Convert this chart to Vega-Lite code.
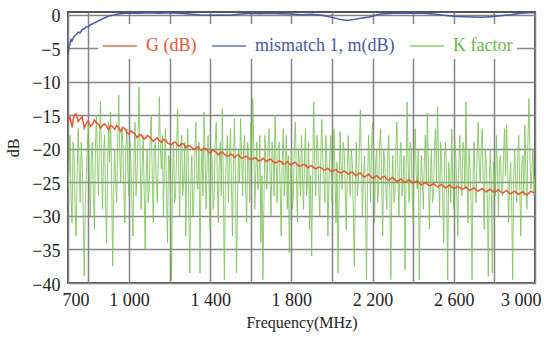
{
  "$schema": "https://vega.github.io/schema/vega-lite/v6.json",
  "width": 467,
  "height": 271,
  "autosize": {"type": "none"},
  "padding": {"left": 68, "top": 12, "right": 14, "bottom": 55},
  "background": "white",
  "config": {
    "view": {"stroke": "#555555", "strokeWidth": 2},
    "font": "Liberation Serif",
    "axis": {
      "labelFont": "Liberation Serif", "titleFont": "Liberation Serif",
      "labelColor": "#222222", "titleColor": "#222222", "titleFontWeight": "normal",
      "domain": false, "ticks": false,
      "gridColor": "#858585", "gridWidth": 1.5, "gridOpacity": 1,
      "labelFontSize": 18, "titleFontSize": 16, "labelOverlap": false
    }
  },
  "datasets": {
    "k": [
      {"f":700,"v":-26},{"f":710,"v":-18},{"f":720,"v":-31},{"f":730,"v":-21},{"f":740,"v":-33},{"f":750,"v":-17},{"f":760,"v":-28},{"f":770,"v":-22},{"f":780,"v":-39},{"f":790,"v":-24},
      {"f":800,"v":-16},{"f":810,"v":-30},{"f":820,"v":-19},{"f":830,"v":-32},{"f":840,"v":-15},{"f":850,"v":-27},{"f":860,"v":-13},{"f":870,"v":-29},{"f":880,"v":-18},{"f":890,"v":-34},
      {"f":900,"v":-16},{"f":910,"v":-14.5},{"f":920,"v":-37.5},{"f":930,"v":-20},{"f":940,"v":-28},{"f":950,"v":-12},{"f":960,"v":-25},{"f":970,"v":-19},{"f":980,"v":-31},{"f":990,"v":-17},
      {"f":1000,"v":-27},{"f":1010,"v":-22},{"f":1020,"v":-33},{"f":1030,"v":-16},{"f":1040,"v":-24},{"f":1050,"v":-10.8},{"f":1060,"v":-29},{"f":1070,"v":-18},{"f":1080,"v":-35},{"f":1090,"v":-20},
      {"f":1100,"v":-26},{"f":1110,"v":-15},{"f":1120,"v":-31},{"f":1130,"v":-19},{"f":1140,"v":-28},{"f":1150,"v":-12.2},{"f":1160,"v":-23},{"f":1170,"v":-30},{"f":1180,"v":-17},{"f":1190,"v":-34},
      {"f":1200,"v":-22},{"f":1210,"v":-39.5},{"f":1220,"v":-19},{"f":1230,"v":-27},{"f":1240,"v":-14},{"f":1250,"v":-30},{"f":1260,"v":-18},{"f":1270,"v":-25},{"f":1280,"v":-33},{"f":1290,"v":-17},
      {"f":1300,"v":-38.5},{"f":1310,"v":-21},{"f":1320,"v":-28},{"f":1330,"v":-16},{"f":1340,"v":-26},{"f":1350,"v":-38.5},{"f":1360,"v":-20},{"f":1370,"v":-14.5},{"f":1380,"v":-29},{"f":1390,"v":-18},
      {"f":1400,"v":-32},{"f":1410,"v":-22},{"f":1420,"v":-27},{"f":1430,"v":-16},{"f":1440,"v":-31},{"f":1450,"v":-19},{"f":1460,"v":-14},{"f":1470,"v":-39.5},{"f":1480,"v":-21},{"f":1490,"v":-28},
      {"f":1500,"v":-17},{"f":1510,"v":-33},{"f":1520,"v":-15.5},{"f":1530,"v":-38.5},{"f":1540,"v":-20},{"f":1550,"v":-15.5},{"f":1560,"v":-27},{"f":1570,"v":-18},{"f":1580,"v":-31},{"f":1590,"v":-22},
      {"f":1600,"v":-16},{"f":1610,"v":-12.5},{"f":1620,"v":-29},{"f":1630,"v":-19},{"f":1640,"v":-25},{"f":1650,"v":-34},{"f":1660,"v":-39.5},{"f":1670,"v":-18},{"f":1680,"v":-26},{"f":1690,"v":-17},
      {"f":1700,"v":-30},{"f":1710,"v":-21},{"f":1720,"v":-15},{"f":1730,"v":-28},{"f":1740,"v":-19},{"f":1750,"v":-33},{"f":1760,"v":-17},{"f":1770,"v":-24},{"f":1780,"v":-29},{"f":1790,"v":-35.5},
      {"f":1800,"v":-20},{"f":1810,"v":-27},{"f":1820,"v":-16},{"f":1830,"v":-31},{"f":1840,"v":-22},{"f":1850,"v":-18},{"f":1860,"v":-29},{"f":1870,"v":-17},{"f":1880,"v":-25},{"f":1890,"v":-32},
      {"f":1900,"v":-36},{"f":1910,"v":-13},{"f":1920,"v":-27},{"f":1930,"v":-19},{"f":1940,"v":-30},{"f":1950,"v":-15.6},{"f":1960,"v":-24},{"f":1970,"v":-18},{"f":1980,"v":-33},{"f":1990,"v":-21},
      {"f":2000,"v":-28},{"f":2010,"v":-17},{"f":2020,"v":-31},{"f":2030,"v":-38.5},{"f":2040,"v":-17.4},{"f":2050,"v":-26},{"f":2060,"v":-20},{"f":2070,"v":-32},{"f":2080,"v":-18},{"f":2090,"v":-27},
      {"f":2100,"v":-22},{"f":2110,"v":-37.6},{"f":2120,"v":-19},{"f":2130,"v":-25},{"f":2140,"v":-14.2},{"f":2150,"v":-30},{"f":2160,"v":-21},{"f":2170,"v":-39.5},{"f":2180,"v":-18},{"f":2190,"v":-28},
      {"f":2200,"v":-16},{"f":2210,"v":-31},{"f":2220,"v":-20},{"f":2230,"v":-26},{"f":2240,"v":-17},{"f":2250,"v":-33},{"f":2260,"v":-22},{"f":2270,"v":-29},{"f":2280,"v":-18},{"f":2290,"v":-39.5},
      {"f":2300,"v":-21},{"f":2310,"v":-27},{"f":2320,"v":-16},{"f":2330,"v":-30},{"f":2340,"v":-19},{"f":2350,"v":-25},{"f":2360,"v":-38},{"f":2370,"v":-13},{"f":2380,"v":-28},{"f":2390,"v":-20},
      {"f":2400,"v":-31},{"f":2410,"v":-17},{"f":2420,"v":-26},{"f":2430,"v":-39.5},{"f":2440,"v":-21},{"f":2450,"v":-29},{"f":2460,"v":-18},{"f":2470,"v":-14.7},{"f":2480,"v":-32},{"f":2490,"v":-20},
      {"f":2500,"v":-27},{"f":2510,"v":-17},{"f":2520,"v":-13.7},{"f":2530,"v":-30},{"f":2540,"v":-22},{"f":2550,"v":-34},{"f":2560,"v":-19},{"f":2570,"v":-39.5},{"f":2580,"v":-24},{"f":2590,"v":-17},
      {"f":2600,"v":-29},{"f":2610,"v":-21},{"f":2620,"v":-33},{"f":2630,"v":-18},{"f":2640,"v":-27},{"f":2650,"v":-20},{"f":2660,"v":-13},{"f":2670,"v":-31},{"f":2680,"v":-23},{"f":2690,"v":-39.5},
      {"f":2700,"v":-19},{"f":2710,"v":-28},{"f":2720,"v":-16},{"f":2730,"v":-25},{"f":2740,"v":-17},{"f":2750,"v":-32},{"f":2760,"v":-22},{"f":2770,"v":-39},{"f":2780,"v":-20},{"f":2790,"v":-38.5},
      {"f":2800,"v":-24},{"f":2810,"v":-18},{"f":2820,"v":-30},{"f":2830,"v":-21},{"f":2840,"v":-27},{"f":2850,"v":-17},{"f":2860,"v":-16.4},{"f":2870,"v":-31},{"f":2880,"v":-22},{"f":2890,"v":-39.5},
      {"f":2900,"v":-20},{"f":2910,"v":-28},{"f":2920,"v":-18},{"f":2930,"v":-33},{"f":2940,"v":-21},{"f":2950,"v":-16.4},{"f":2960,"v":-29},{"f":2970,"v":-12.5},{"f":2980,"v":-26},{"f":2990,"v":-20},
      {"f":3000,"v":-24},
      {"f":705,"v":-23},{"f":715,"v":-27},{"f":725,"v":-19},{"f":735,"v":-29},{"f":745,"v":-24},{"f":755,"v":-23},{"f":765,"v":-19},{"f":775,"v":-30},{"f":785,"v":-28},{"f":795,"v":-20},
      {"f":805,"v":-24},{"f":815,"v":-21},{"f":825,"v":-27},{"f":835,"v":-20},{"f":845,"v":-22},{"f":855,"v":-19},{"f":865,"v":-22},{"f":875,"v":-21},{"f":885,"v":-28},{"f":895,"v":-23},
      {"f":905,"v":-22},{"f":915,"v":-25},{"f":925,"v":-26},{"f":935,"v":-25},{"f":945,"v":-19},{"f":955,"v":-21},{"f":965,"v":-17},{"f":975,"v":-26},{"f":985,"v":-20},{"f":995,"v":-24},
      {"f":1005,"v":-19},{"f":1015,"v":-28},{"f":1025,"v":-21},{"f":1035,"v":-27},{"f":1045,"v":-18},{"f":1055,"v":-21},{"f":1065,"v":-23},{"f":1075,"v":-26},{"f":1085,"v":-24},{"f":1095,"v":-28},
      {"f":1105,"v":-18},{"f":1115,"v":-24},{"f":1125,"v":-20},{"f":1135,"v":-25},{"f":1145,"v":-21},{"f":1155,"v":-20},{"f":1165,"v":-18},{"f":1175,"v":-22},{"f":1185,"v":-27},{"f":1195,"v":-21},
      {"f":1205,"v":-27},{"f":1215,"v":-24},{"f":1225,"v":-28},{"f":1235,"v":-20},{"f":1245,"v":-23},{"f":1255,"v":-21},{"f":1265,"v":-27},{"f":1275,"v":-19},{"f":1285,"v":-22},{"f":1295,"v":-29},
      {"f":1305,"v":-25},{"f":1315,"v":-30},{"f":1325,"v":-20},{"f":1335,"v":-25},{"f":1345,"v":-19},{"f":1355,"v":-24},{"f":1365,"v":-27},{"f":1375,"v":-21},{"f":1385,"v":-22},{"f":1395,"v":-26},
      {"f":1405,"v":-20},{"f":1415,"v":-29},{"f":1425,"v":-19},{"f":1435,"v":-24},{"f":1445,"v":-22},{"f":1455,"v":-27},{"f":1465,"v":-25},{"f":1475,"v":-26},{"f":1485,"v":-18},{"f":1495,"v":-22},
      {"f":1505,"v":-25},{"f":1515,"v":-22},{"f":1525,"v":-24},{"f":1535,"v":-27},{"f":1545,"v":-25},{"f":1555,"v":-21},{"f":1565,"v":-20},{"f":1575,"v":-26},{"f":1585,"v":-19},{"f":1595,"v":-28},
      {"f":1605,"v":-21},{"f":1615,"v":-20},{"f":1625,"v":-23},{"f":1635,"v":-26},{"f":1645,"v":-18},{"f":1655,"v":-24},{"f":1665,"v":-28},{"f":1675,"v":-23},{"f":1685,"v":-20},{"f":1695,"v":-24},
      {"f":1705,"v":-19},{"f":1715,"v":-27},{"f":1725,"v":-22},{"f":1735,"v":-20},{"f":1745,"v":-26},{"f":1755,"v":-22},{"f":1765,"v":-27},{"f":1775,"v":-18},{"f":1785,"v":-21},{"f":1795,"v":-25},
      {"f":1805,"v":-29},{"f":1815,"v":-19},{"f":1825,"v":-24},{"f":1835,"v":-20},{"f":1845,"v":-27},{"f":1855,"v":-24},{"f":1865,"v":-21},{"f":1875,"v":-27},{"f":1885,"v":-19},{"f":1895,"v":-24},
      {"f":1905,"v":-24},{"f":1915,"v":-22},{"f":1925,"v":-18},{"f":1935,"v":-26},{"f":1945,"v":-21},{"f":1955,"v":-22},{"f":1965,"v":-28},{"f":1975,"v":-22},{"f":1985,"v":-25},{"f":1995,"v":-18},
      {"f":2005,"v":-23},{"f":2015,"v":-24},{"f":2025,"v":-22},{"f":2035,"v":-27},{"f":2045,"v":-23},{"f":2055,"v":-19},{"f":2065,"v":-25},{"f":2075,"v":-24},{"f":2085,"v":-23},{"f":2095,"v":-20},
      {"f":2105,"v":-29},{"f":2115,"v":-25},{"f":2125,"v":-27},{"f":2135,"v":-20},{"f":2145,"v":-22},{"f":2155,"v":-24},{"f":2165,"v":-28},{"f":2175,"v":-26},{"f":2185,"v":-22},{"f":2195,"v":-20},
      {"f":2205,"v":-23},{"f":2215,"v":-22},{"f":2225,"v":-28},{"f":2235,"v":-19},{"f":2245,"v":-25},{"f":2255,"v":-20},{"f":2265,"v":-26},{"f":2275,"v":-21},{"f":2285,"v":-27},{"f":2295,"v":-25},
      {"f":2305,"v":-28},{"f":2315,"v":-20},{"f":2325,"v":-24},{"f":2335,"v":-21},{"f":2345,"v":-27},{"f":2355,"v":-21},{"f":2365,"v":-24},{"f":2375,"v":-22},{"f":2385,"v":-19},{"f":2395,"v":-27},
      {"f":2405,"v":-21},{"f":2415,"v":-24},{"f":2425,"v":-20},{"f":2435,"v":-27},{"f":2445,"v":-24},{"f":2455,"v":-22},{"f":2465,"v":-25},{"f":2475,"v":-23},{"f":2485,"v":-24},{"f":2495,"v":-28},
      {"f":2505,"v":-20},{"f":2515,"v":-25},{"f":2525,"v":-22},{"f":2535,"v":-19},{"f":2545,"v":-27},{"f":2555,"v":-21},{"f":2565,"v":-26},{"f":2575,"v":-22},{"f":2585,"v":-28},{"f":2595,"v":-25},
      {"f":2605,"v":-19},{"f":2615,"v":-27},{"f":2625,"v":-22},{"f":2635,"v":-24},{"f":2645,"v":-19},{"f":2655,"v":-26},{"f":2665,"v":-24},{"f":2675,"v":-20},{"f":2685,"v":-28},{"f":2695,"v":-24},
      {"f":2705,"v":-26},{"f":2715,"v":-21},{"f":2725,"v":-22},{"f":2735,"v":-20},{"f":2745,"v":-25},{"f":2755,"v":-20},{"f":2765,"v":-27},{"f":2775,"v":-25},{"f":2785,"v":-26},{"f":2795,"v":-22},
      {"f":2805,"v":-27},{"f":2815,"v":-23},{"f":2825,"v":-22},{"f":2835,"v":-26},{"f":2845,"v":-21},{"f":2855,"v":-24},{"f":2865,"v":-22},{"f":2875,"v":-25},{"f":2885,"v":-28},{"f":2895,"v":-24},
      {"f":2905,"v":-25},{"f":2915,"v":-21},{"f":2925,"v":-26},{"f":2935,"v":-22},{"f":2945,"v":-27},{"f":2955,"v":-23},{"f":2965,"v":-19},{"f":2975,"v":-21},{"f":2985,"v":-23},{"f":2995,"v":-27}
    ],
    "g": [
      {"f":700,"v":-16.0},{"f":720,"v":-16.8},{"f":740,"v":-14.8},{"f":760,"v":-15.5},{"f":780,"v":-16.9},{"f":800,"v":-15.8},{"f":820,"v":-16.4},{"f":840,"v":-16.1},{"f":860,"v":-16.9},{"f":880,"v":-16.3},
      {"f":900,"v":-17.2},{"f":920,"v":-16.7},{"f":940,"v":-16.5},{"f":960,"v":-17.4},{"f":980,"v":-17.0},{"f":1000,"v":-17.8},{"f":1020,"v":-17.6},{"f":1040,"v":-18.3},{"f":1060,"v":-17.9},{"f":1080,"v":-18.5},
      {"f":1100,"v":-18.2},{"f":1120,"v":-18.9},{"f":1140,"v":-18.4},{"f":1160,"v":-19.0},{"f":1180,"v":-18.7},{"f":1200,"v":-19.3},{"f":1220,"v":-19.0},{"f":1240,"v":-19.5},{"f":1260,"v":-19.2},{"f":1280,"v":-19.8},
      {"f":1300,"v":-19.6},{"f":1320,"v":-20.1},{"f":1340,"v":-19.7},{"f":1360,"v":-20.2},{"f":1380,"v":-20.0},{"f":1400,"v":-20.6},{"f":1420,"v":-20.3},{"f":1440,"v":-20.9},{"f":1460,"v":-20.5},{"f":1480,"v":-21.0},
      {"f":1500,"v":-20.8},{"f":1520,"v":-21.3},{"f":1540,"v":-20.9},{"f":1560,"v":-21.4},{"f":1580,"v":-21.1},{"f":1600,"v":-21.6},{"f":1620,"v":-21.3},{"f":1640,"v":-21.8},{"f":1660,"v":-21.4},{"f":1680,"v":-21.9},
      {"f":1700,"v":-21.6},{"f":1720,"v":-22.1},{"f":1740,"v":-21.8},{"f":1760,"v":-22.3},{"f":1780,"v":-21.9},{"f":1800,"v":-22.4},{"f":1820,"v":-22.0},{"f":1840,"v":-22.6},{"f":1860,"v":-22.3},{"f":1880,"v":-22.8},
      {"f":1900,"v":-22.5},{"f":1920,"v":-23.0},{"f":1940,"v":-22.7},{"f":1960,"v":-23.2},{"f":1980,"v":-22.9},{"f":2000,"v":-23.4},{"f":2020,"v":-23.1},{"f":2040,"v":-23.6},{"f":2060,"v":-23.3},{"f":2080,"v":-23.8},
      {"f":2100,"v":-23.4},{"f":2120,"v":-24.0},{"f":2140,"v":-23.6},{"f":2160,"v":-24.2},{"f":2180,"v":-23.8},{"f":2200,"v":-24.4},{"f":2220,"v":-24.0},{"f":2240,"v":-24.5},{"f":2260,"v":-24.1},{"f":2280,"v":-24.7},
      {"f":2300,"v":-24.3},{"f":2320,"v":-24.9},{"f":2340,"v":-24.5},{"f":2360,"v":-25.0},{"f":2380,"v":-24.6},{"f":2400,"v":-25.1},{"f":2420,"v":-24.8},{"f":2440,"v":-25.4},{"f":2460,"v":-25.0},{"f":2480,"v":-25.5},
      {"f":2500,"v":-25.2},{"f":2520,"v":-25.7},{"f":2540,"v":-25.3},{"f":2560,"v":-25.8},{"f":2580,"v":-25.4},{"f":2600,"v":-25.9},{"f":2620,"v":-25.6},{"f":2640,"v":-26.0},{"f":2660,"v":-25.7},{"f":2680,"v":-26.2},
      {"f":2700,"v":-25.8},{"f":2720,"v":-26.3},{"f":2740,"v":-25.9},{"f":2760,"v":-26.4},{"f":2780,"v":-26.0},{"f":2800,"v":-26.5},{"f":2820,"v":-26.1},{"f":2840,"v":-26.6},{"f":2860,"v":-26.2},{"f":2880,"v":-26.7},
      {"f":2900,"v":-26.3},{"f":2920,"v":-26.8},{"f":2940,"v":-26.4},{"f":2960,"v":-26.9},{"f":2980,"v":-26.3},{"f":3000,"v":-26.6},
      {"f":710,"v":-15.3},{"f":730,"v":-15.0},{"f":750,"v":-15.9},{"f":770,"v":-15.2},{"f":790,"v":-16.2},
      {"f":810,"v":-16.6},{"f":830,"v":-15.7},{"f":850,"v":-16.3},{"f":870,"v":-16.5},{"f":890,"v":-16.6},{"f":910,"v":-16.5},{"f":930,"v":-17.1},{"f":950,"v":-16.9},{"f":970,"v":-16.8},{"f":990,"v":-17.6},
      {"f":1010,"v":-17.3},{"f":1030,"v":-17.8},{"f":1050,"v":-18.0},{"f":1070,"v":-18.4},{"f":1090,"v":-18.0},{"f":1110,"v":-18.5},{"f":1130,"v":-18.6},{"f":1150,"v":-18.8},{"f":1170,"v":-18.6},{"f":1190,"v":-19.1},
      {"f":1210,"v":-19.4},{"f":1230,"v":-19.0},{"f":1250,"v":-19.6},{"f":1270,"v":-19.3},{"f":1290,"v":-19.5},{"f":1310,"v":-19.8},{"f":1330,"v":-19.9},{"f":1350,"v":-20.1},{"f":1370,"v":-19.9},{"f":1390,"v":-20.4},
      {"f":1410,"v":-20.2},{"f":1430,"v":-20.5},{"f":1450,"v":-20.6},{"f":1470,"v":-20.8},{"f":1490,"v":-21.1},{"f":1510,"v":-20.9},{"f":1530,"v":-21.0},{"f":1550,"v":-21.3},{"f":1570,"v":-21.2},{"f":1590,"v":-21.4},
      {"f":1610,"v":-21.5},{"f":1630,"v":-21.5},{"f":1650,"v":-21.7},{"f":1670,"v":-21.7},{"f":1690,"v":-21.6},{"f":1710,"v":-21.9},{"f":1730,"v":-22.0},{"f":1750,"v":-21.9},{"f":1770,"v":-22.2},{"f":1790,"v":-22.2},
      {"f":1810,"v":-22.1},{"f":1830,"v":-22.4},{"f":1850,"v":-22.5},{"f":1870,"v":-22.4},{"f":1890,"v":-22.6},{"f":1910,"v":-22.8},{"f":1930,"v":-22.8},{"f":1950,"v":-22.9},{"f":1970,"v":-23.1},{"f":1990,"v":-23.2},
      {"f":2010,"v":-23.2},{"f":2030,"v":-23.4},{"f":2050,"v":-23.5},{"f":2070,"v":-23.5},{"f":2090,"v":-23.6},{"f":2110,"v":-23.8},{"f":2130,"v":-23.7},{"f":2150,"v":-24.0},{"f":2170,"v":-24.0},{"f":2190,"v":-24.1},
      {"f":2210,"v":-24.2},{"f":2230,"v":-24.3},{"f":2250,"v":-24.2},{"f":2270,"v":-24.5},{"f":2290,"v":-24.4},{"f":2310,"v":-24.6},{"f":2330,"v":-24.7},{"f":2350,"v":-24.8},{"f":2370,"v":-24.8},{"f":2390,"v":-24.9},
      {"f":2410,"v":-24.9},{"f":2430,"v":-25.1},{"f":2450,"v":-25.2},{"f":2470,"v":-25.3},{"f":2490,"v":-25.4},{"f":2510,"v":-25.4},{"f":2530,"v":-25.5},{"f":2550,"v":-25.6},{"f":2570,"v":-25.6},{"f":2590,"v":-25.7},
      {"f":2610,"v":-25.8},{"f":2630,"v":-25.8},{"f":2650,"v":-25.9},{"f":2670,"v":-26.0},{"f":2690,"v":-26.0},{"f":2710,"v":-26.1},{"f":2730,"v":-26.1},{"f":2750,"v":-26.2},{"f":2770,"v":-26.2},{"f":2790,"v":-26.3},
      {"f":2810,"v":-26.3},{"f":2830,"v":-26.4},{"f":2850,"v":-26.4},{"f":2870,"v":-26.5},{"f":2890,"v":-26.5},{"f":2910,"v":-26.6},{"f":2930,"v":-26.6},{"f":2950,"v":-26.7},{"f":2970,"v":-26.6},{"f":2990,"v":-26.5}
    ],
    "m": [
      {"f":700,"v":-5.9},{"f":705,"v":-4.8},{"f":710,"v":-4.3},{"f":715,"v":-3.7},{"f":720,"v":-3.9},{"f":730,"v":-3.2},{"f":740,"v":-3.0},{"f":750,"v":-2.6},{"f":760,"v":-2.7},{"f":770,"v":-2.2},
      {"f":780,"v":-2.1},{"f":790,"v":-1.8},{"f":800,"v":-1.8},{"f":810,"v":-1.5},{"f":820,"v":-1.4},{"f":830,"v":-1.2},{"f":840,"v":-1.1},{"f":850,"v":-0.9},{"f":860,"v":-0.8},{"f":870,"v":-0.6},
      {"f":880,"v":-0.5},{"f":890,"v":-0.35},{"f":900,"v":-0.2},{"f":920,"v":-0.1},{"f":940,"v":0.05},{"f":960,"v":0.15},{"f":980,"v":0.2},{"f":1000,"v":0.25},{"f":1050,"v":0.2},{"f":1100,"v":0.28},
      {"f":1150,"v":0.22},{"f":1200,"v":0.28},{"f":1250,"v":0.2},{"f":1300,"v":0.1},{"f":1350,"v":-0.05},{"f":1400,"v":-0.1},{"f":1450,"v":-0.05},{"f":1500,"v":-0.1},{"f":1550,"v":0.1},{"f":1600,"v":0.2},
      {"f":1650,"v":0.15},{"f":1700,"v":0.2},{"f":1750,"v":0.15},{"f":1800,"v":0.1},{"f":1850,"v":0.0},{"f":1900,"v":0.05},{"f":1950,"v":-0.1},{"f":2000,"v":-0.4},{"f":2040,"v":-0.7},{"f":2075,"v":-0.85},
      {"f":2110,"v":-0.7},{"f":2150,"v":-0.5},{"f":2190,"v":-0.3},{"f":2240,"v":0.1},{"f":2300,"v":0.2},{"f":2350,"v":0.25},{"f":2400,"v":0.2},{"f":2450,"v":0.2},{"f":2500,"v":0.1},{"f":2550,"v":-0.1},
      {"f":2600,"v":-0.25},{"f":2650,"v":-0.3},{"f":2700,"v":-0.35},{"f":2740,"v":-0.4},{"f":2780,"v":-0.3},{"f":2830,"v":-0.15},{"f":2880,"v":0.0},{"f":2930,"v":0.2},{"f":2970,"v":0.3},{"f":3000,"v":0.3}
    ]
  },
  "layer": [
    {
      "data": {"name": "k"},
      "mark": {"type": "line", "strokeWidth": 1, "opacity": 0.85, "clip": true},
      "encoding": {
        "x": {
          "field": "f", "type": "quantitative",
          "scale": {"domain": [700, 3000], "nice": false, "zero": false},
          "axis": {
            "values": [700, 800, 1000, 1200, 1400, 1600, 1800, 2000, 2200, 2400, 2600, 2800, 3000],
            "tickCount": 30,
            "labelExpr": "(datum.value == 700 || (datum.value - 1000) % 400 == 0) ? (datum.value >= 1000 ? floor(datum.value / 1000) + ' ' + substring(toString(datum.value), 1) : toString(datum.value)) : ''",
            "labelFlush": true,
            "labelFlushOffset": 6,
            "labelPadding": 8,
            "title": "Frequency(MHz)",
            "titlePadding": 5
          }
        },
        "y": {
          "field": "v", "type": "quantitative",
          "scale": {"domain": [-40, 0.4], "nice": false, "zero": false},
          "axis": {
            "values": [-40, -35, -30, -25, -20, -15, -10, -5, 0],
            "tickCount": 30,
            "labelPadding": 8,
            "labelOffset": 2,
            "title": "dB",
            "titlePadding": 10
          }
        },
        "color": {
          "datum": "K factor",
          "scale": {"domain": ["G (dB)", "mismatch 1, m(dB)", "K factor"], "range": ["#ea5434", "#4a58a8", "#7dc35b"]},
          "legend": {
            "orient": "none", "legendX": 30, "legendY": 12, "direction": "horizontal",
            "title": null, "symbolType": "stroke", "symbolSize": 1150, "symbolStrokeWidth": 1.5,
            "labelFont": "Liberation Serif", "labelFontSize": 18, "labelOffset": 8, "labelLimit": 300,
            "columnPadding": 12, "padding": 4, "fillColor": "white",
            "encoding": {
              "labels": {
                "fill": {
                  "condition": [
                    {"test": "datum.value === 'G (dB)'", "value": "#ea5434"},
                    {"test": "datum.value === 'K factor'", "value": "#6cb848"}
                  ],
                  "value": "#4a58a8"
                }
              }
            }
          }
        }
      }
    },
    {
      "data": {"name": "g"},
      "mark": {"type": "line", "strokeWidth": 1.5, "clip": true},
      "encoding": {
        "x": {"field": "f", "type": "quantitative"},
        "y": {"field": "v", "type": "quantitative"},
        "color": {"datum": "G (dB)"}
      }
    },
    {
      "data": {"name": "m"},
      "mark": {"type": "line", "strokeWidth": 1.5, "clip": true},
      "encoding": {
        "x": {"field": "f", "type": "quantitative"},
        "y": {"field": "v", "type": "quantitative"},
        "color": {"datum": "mismatch 1, m(dB)"}
      }
    }
  ]
}
